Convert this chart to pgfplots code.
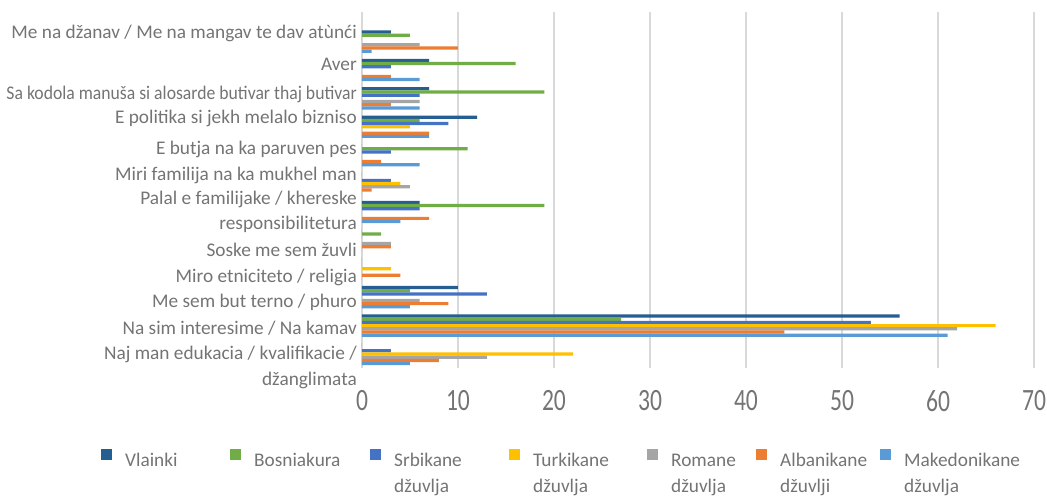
\documentclass[border=0pt]{standalone}
\usepackage{pgfplots}
\pgfplotsset{compat=1.18}
\usepackage{fontspec}
\setmainfont{Carlito}
\definecolor{cVl}{HTML}{255E91}
\definecolor{cBo}{HTML}{70AD47}
\definecolor{cSr}{HTML}{4472C4}
\definecolor{cTu}{HTML}{FFC000}
\definecolor{cRo}{HTML}{A5A5A5}
\definecolor{cAl}{HTML}{ED7D31}
\definecolor{cMa}{HTML}{5B9BD5}
\definecolor{txt}{HTML}{747474}
\definecolor{gridc}{HTML}{D9D9D9}
\newcommand{\lab}{\fontsize{19.3}{25.5}\selectfont}
\pgfplotsset{
  sq/.style={fill=#1, draw=none, bar width=0.1127,
    legend image code/.code={\fill[fill=#1] (0pt,-1.5pt) rectangle (10.5pt,10pt); \path (0pt,0pt) (24pt,0pt);}},
}
\begin{document}
\begin{tikzpicture}[x=1pt,y=1pt]
\useasboundingbox (-362,-129) rectangle (685,368);
\begin{axis}[
  at={(0,0)}, anchor=south west,
  scale only axis, width=672pt, height=356pt,
  xmin=0, xmax=70, xtick={0,10,...,70},
  ymin=-1.042, ymax=11.493, y dir=reverse,
  axis line style={draw=none},
  xmajorgrids, grid style={gridc, line width=1.6pt},
  major tick length=0pt,
  xtick style={draw=none}, ytick style={draw=none},
  /pgf/number format/assume math mode=true,
  xticklabel={\scalebox{0.76}[1]{\pgfmathprintnumber{\tick}}},
  xticklabel style={font=\fontsize{31}{31}\selectfont, text=txt, anchor=center, yshift=-33pt},
  ytick={-0.292,0.824,1.845,2.697,3.792,4.722,6.0,7.398,8.299,9.194,10.12,11.48},
  yticklabels={
    \strut Me na džanav / Me na mangav te dav atùnći,
    \strut Aver,
    \scalebox{0.915}[1]{\strut Sa kodola manuša si alosarde butivar thaj butivar},
    \strut E politika si jekh melalo bizniso,
    \strut E butja na ka paruven pes,
    \strut Miri familija na ka mukhel man,
    {\strut Palal e familijake / khereske\\\strut responsibilitetura},
    \strut Soske me sem žuvli,
    \strut Miro etniciteto / religia,
    \strut Me sem but terno / phuro,
    \strut Na sim interesime / Na kamav,
    {\strut Naj man edukacia / kvalifikacie /\\\strut džanglimata}
  },
  yticklabel style={font=\lab, text=txt, align=right, anchor=east, inner sep=0pt, xshift=-5pt},
  legend columns=7,
  legend cell align=left,
  legend style={at={(axis description cs:-0.3884,-0.2258)}, anchor=north west,
    draw=none, fill=none, inner sep=0pt, column sep=0pt, font=\lab, text=txt,
    nodes={inner sep=0pt}},
]
\addplot[xbar, sq=cVl, bar shift=-0.3381] coordinates {(3,0) (7,1) (7,2) (12,3) (0,4) (0,5) (6,6) (0,7) (0,8) (10,9) (56,10) (0,11)};
\addlegendentry{\parbox[t]{105pt}{\strut Vlainki}}
\addplot[xbar, sq=cBo, bar shift=-0.2254] coordinates {(5,0) (16,1) (19,2) (6,3) (11,4) (0,5) (19,6) (2,7) (0,8) (5,9) (27,10) (0,11)};
\addlegendentry{\parbox[t]{116pt}{\strut Bosniakura}}
\addplot[xbar, sq=cSr, bar shift=-0.1127] coordinates {(0,0) (3,1) (6,2) (9,3) (3,4) (3,5) (6,6) (0,7) (0,8) (13,9) (53,10) (3,11)};
\addlegendentry{\parbox[t]{115pt}{\strut Srbikane\\\strut džuvlja}}
\addplot[xbar, sq=cTu, bar shift=0] coordinates {(0,0) (0,1) (0,2) (5,3) (0,4) (4,5) (0,6) (0,7) (3,8) (0,9) (66,10) (22,11)};
\addlegendentry{\parbox[t]{114pt}{\strut Turkikane\\\strut džuvlja}}
\addplot[xbar, sq=cRo, bar shift=0.1127] coordinates {(6,0) (0,1) (6,2) (0,3) (0,4) (5,5) (0,6) (3,7) (0,8) (6,9) (62,10) (13,11)};
\addlegendentry{\parbox[t]{85pt}{\strut Romane\\\strut džuvlja}}
\addplot[xbar, sq=cAl, bar shift=0.2254] coordinates {(10,0) (3,1) (3,2) (7,3) (2,4) (1,5) (7,6) (3,7) (4,8) (9,9) (44,10) (8,11)};
\addlegendentry{\parbox[t]{100pt}{\strut Albanikane\\\strut džuvlji}}
\addplot[xbar, sq=cMa, bar shift=0.3381] coordinates {(1,0) (6,1) (6,2) (7,3) (6,4) (0,5) (4,6) (0,7) (0,8) (5,9) (61,10) (5,11)};
\addlegendentry{\parbox[t]{130pt}{\strut Makedonikane\\\strut džuvlja}}
\end{axis}
\end{tikzpicture}
\end{document}
